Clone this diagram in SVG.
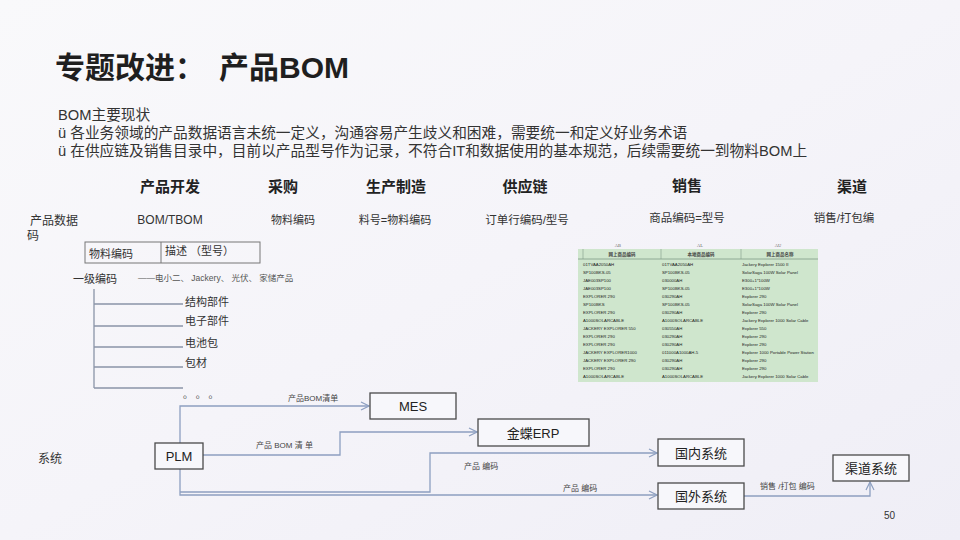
<svg xmlns="http://www.w3.org/2000/svg" width="960" height="540" viewBox="0 0 960 540">
<defs>
<linearGradient id="bg" x1="0" y1="0" x2="1" y2="1">
<stop offset="0" stop-color="#f9f9fb"/>
<stop offset="0.5" stop-color="#f5f4f9"/>
<stop offset="1" stop-color="#efeef6"/>
</linearGradient>
<marker id="arr" viewBox="0 0 10 10" refX="9" refY="5" markerWidth="10" markerHeight="10" markerUnits="userSpaceOnUse" orient="auto">
<path d="M1,1 L9,5 L1,9" fill="none" stroke="#8d9fc0" stroke-width="1.2"/>
</marker>
<style>
text{font-family:"Liberation Sans","Noto Sans CJK SC",sans-serif;fill:#222}
.t{font-size:14.7px;fill:#333}
.h{font-size:15px;font-weight:bold;text-anchor:middle}
.r{font-size:11.5px;text-anchor:middle;fill:#333}
.s{font-size:11px;fill:#333}
.lab{font-size:8px;fill:#444}
.box{fill:#f7f7fb;stroke:#4a4a4a;stroke-width:1.3}
.bt{font-size:13px;text-anchor:middle;fill:#222}
.conn{fill:none;stroke:#8d9fc0;stroke-width:1.3}
.tree{fill:none;stroke:#8a94a8;stroke-width:1.3}
.tb{font-family:"Liberation Serif",serif;font-size:4.3px;fill:#555}
.th{font-family:"Liberation Serif","Noto Sans CJK SC",serif;font-size:4.5px;font-weight:bold;fill:#444;text-anchor:middle}
.col{font-family:"Liberation Serif",serif;font-size:4.5px;fill:#666;text-anchor:middle}
</style>
</defs>
<rect width="960" height="540" fill="url(#bg)"/>

<text x="55" y="78" style="font-size:30px;font-weight:bold;fill:#1f1f1f">专题改进：</text>
<text x="219" y="78" style="font-size:30px;font-weight:bold;fill:#1f1f1f">产品BOM</text>

<text x="58" y="120" class="t">BOM主要现状</text>
<text x="58" y="138" class="t">ü 各业务领域的产品数据语言未统一定义，沟通容易产生歧义和困难，需要统一和定义好业务术语</text>
<text x="58" y="156" class="t">ü 在供应链及销售目录中，目前以产品型号作为记录，不符合IT和数据使用的基本规范，后续需要统一到物料BOM上</text>

<g id="headers">
<text x="170" y="192" class="h">产品开发</text>
<text x="283" y="192" class="h">采购</text>
<text x="396" y="192" class="h">生产制造</text>
<text x="525" y="192" class="h">供应链</text>
<text x="687" y="191" class="h">销售</text>
<text x="852" y="192" class="h">渠道</text>
</g>

<g id="row">
<text x="30" y="225" class="s" style="font-size:12px">产品数据</text>
<text x="27" y="240" class="s" style="font-size:12px">码</text>
<text x="170" y="224" class="r" style="font-size:12px">BOM/TBOM</text>
<text x="293" y="224" class="r" style="font-size:11px">物料编码</text>
<text x="395" y="224" class="r" style="font-size:11px">料号=物料编码</text>
<text x="527" y="224" class="r">订单行编码/型号</text>
<text x="687" y="222" class="r">商品编码=型号</text>
<text x="844" y="222" class="r">销售/打包编</text>
</g>

<g id="code-table">
<rect x="85" y="242" width="175" height="21" fill="none" stroke="#777" stroke-width="1"/>
<line x1="161" y1="242" x2="161" y2="263" stroke="#777" stroke-width="1"/>
<text x="89" y="258" class="s">物料编码</text>
<text x="165" y="255" class="s">描述  （型号）</text>
</g>

<g id="tree">
<text x="73" y="283" class="s">一级编码</text>
<text x="138" y="281" style="font-size:8.5px;fill:#555">——电小二、 Jackery、  光伏、  家储产品</text>
<path class="tree" d="M94,289 V388 M94,304 H183 M94,326 H183 M94,347 H183 M94,367 H183 M94,388 H183"/>
<text x="185" y="306" class="s">结构部件</text>
<text x="185" y="325" class="s">电子部件</text>
<text x="185" y="347" class="s">电池包</text>
<text x="185" y="367" class="s">包材</text>
<text x="183" y="398" style="font-size:10px;fill:#444">。 。 。</text>
</g>

<g id="sales-table">
<text x="618" y="247" class="col">AB</text>
<text x="700" y="247" class="col">AL</text>
<text x="778" y="247" class="col">AU</text>
<rect x="578" y="249" width="240" height="133" fill="#cfe6cd"/>
<line x1="578" y1="259" x2="818" y2="259" stroke="#7f9a86" stroke-width="0.8"/>
<line x1="583" y1="249" x2="583" y2="259" stroke="#7f9a86" stroke-width="0.6"/>
<line x1="661" y1="249" x2="661" y2="259" stroke="#7f9a86" stroke-width="0.6"/>
<line x1="741" y1="249" x2="741" y2="259" stroke="#7f9a86" stroke-width="0.6"/>
<text x="622" y="256" class="th">网上商品编码</text>
<text x="701" y="256" class="th">本地商品编码</text>
<text x="780" y="256" class="th">网上商品名称</text>
<g class="tb">
<text x="583" y="266">01TVAA2050AH</text><text x="662" y="266">01TVAA2050AH</text><text x="742" y="266">Jackery Explorer 1500 II</text>
<text x="583" y="274">SP100BKS-05</text><text x="662" y="274">SP100BKS-05</text><text x="742" y="274">SolarSaga 100W Solar Panel</text>
<text x="583" y="282">JAE003SP100</text><text x="662" y="282">030000AH</text><text x="742" y="282">E300+1*100W</text>
<text x="583" y="290">JAE003SP100</text><text x="662" y="290">SP100BKS-05</text><text x="742" y="290">E300+1*100W</text>
<text x="583" y="298">EXPLORER 290</text><text x="662" y="298">030290AH</text><text x="742" y="298">Explorer 290</text>
<text x="583" y="306">SP100BKS</text><text x="662" y="306">SP100BKS-05</text><text x="742" y="306">SolarSaga 100W Solar Panel</text>
<text x="583" y="314">EXPLORER 290</text><text x="662" y="314">030290AH</text><text x="742" y="314">Explorer 290</text>
<text x="583" y="322">A1000SOLARCABLE</text><text x="662" y="322">A1000SOLARCABLE</text><text x="742" y="322">Jackery Explorer 1000 Solar Cable</text>
<text x="583" y="330">JACKERY EXPLORER 550</text><text x="662" y="330">030550AH</text><text x="742" y="330">Explorer 550</text>
<text x="583" y="338">EXPLORER 290</text><text x="662" y="338">030290AH</text><text x="742" y="338">Explorer 290</text>
<text x="583" y="346">EXPLORER 290</text><text x="662" y="346">030290AH</text><text x="742" y="346">Explorer 290</text>
<text x="583" y="354">JACKERY EXPLORER1000</text><text x="662" y="354">011000A1000AH-5</text><text x="742" y="354">Explorer 1000 Portable Power Station</text>
<text x="583" y="362">JACKERY EXPLORER 290</text><text x="662" y="362">030290AH</text><text x="742" y="362">Explorer 290</text>
<text x="583" y="370">EXPLORER 290</text><text x="662" y="370">030290AH</text><text x="742" y="370">Explorer 290</text>
<text x="583" y="378">A1000SOLARCABLE</text><text x="662" y="378">A1000SOLARCABLE</text><text x="742" y="378">Jackery Explorer 1000 Solar Cable</text>
</g>
</g>

<text x="38" y="463" class="s" style="font-size:12px">系统</text>

<g id="connectors">
<path class="conn" d="M180,443 V406 H369" marker-end="url(#arr)"/>
<path class="conn" d="M203,455 H340 V432 H477" marker-end="url(#arr)"/>
<path class="conn" d="M180,469 V495 H657" marker-end="url(#arr)"/>
<path class="conn" d="M180,492 H430 V453 H657" marker-end="url(#arr)"/>
<path class="conn" d="M744,496 H870 V482" marker-end="url(#arr)"/>
<text x="288" y="401" class="lab">产品BOM清单</text>
<text x="256" y="448" class="lab">产品 BOM 清 单</text>
<text x="464" y="469" class="lab">产品 编码</text>
<text x="563" y="491" class="lab">产品 编码</text>
<text x="760" y="489" class="lab">销售 /打包 编码</text>
</g>

<g id="plm"><rect x="155" y="443" width="48" height="26" class="box"/><text x="179" y="461" class="bt">PLM</text></g>
<g id="mes"><rect x="370" y="393" width="86" height="26" class="box"/><text x="413" y="411" class="bt">MES</text></g>
<g id="erp"><rect x="478" y="419" width="111" height="27" class="box"/><text x="533" y="438" class="bt">金蝶ERP</text></g>
<g id="domestic"><rect x="658" y="439" width="86" height="27" class="box"/><text x="701" y="458" class="bt">国内系统</text></g>
<g id="overseas"><rect x="658" y="483" width="86" height="26" class="box"/><text x="701" y="501" class="bt">国外系统</text></g>
<g id="channel"><rect x="833" y="455" width="76" height="26" class="box"/><text x="871" y="473" class="bt">渠道系统</text></g>

<text x="884" y="519" style="font-size:10px;fill:#333">50</text>
</svg>
